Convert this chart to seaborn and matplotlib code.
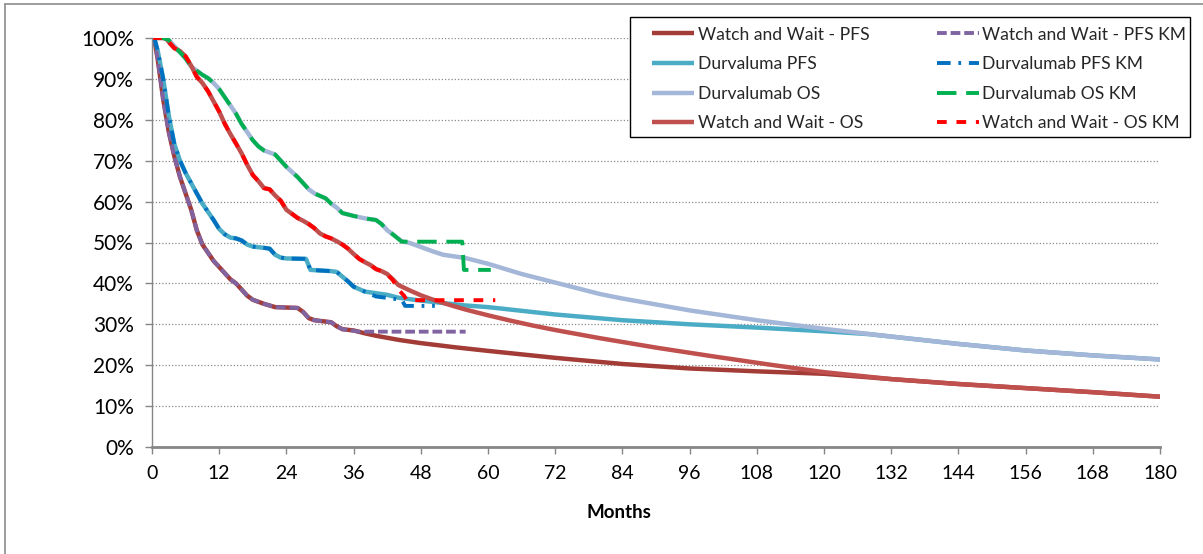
import numpy as np
import pandas as pd
import matplotlib
matplotlib.use("Agg")
import matplotlib.pyplot as plt
import seaborn as sns
from matplotlib.lines import Line2D
from matplotlib.patches import Rectangle
from matplotlib.ticker import PercentFormatter

# ---------------- data (months, survival %) ----------------
ww_pfs_t = [0, 0.5, 1, 2, 3, 4, 5, 6, 7, 8, 9, 10, 11, 12, 13, 14, 15, 16, 17, 18, 20, 22, 26, 27, 28, 29,
            32, 33, 34, 36, 38, 40, 44, 48, 54, 60, 72, 84, 96, 108, 120, 132, 144, 156, 168, 180]
ww_pfs_s = [100, 99, 95, 85, 77, 71, 66, 62, 58, 53, 49.5, 47.5, 45.5, 44, 42.5, 41, 40, 38.5, 37, 36, 35, 34.2,
            34, 33, 31.5, 31, 30.5, 29.5, 28.8, 28.5, 27.8, 27.2, 26.2, 25.4, 24.4, 23.5, 21.8, 20.3, 19.2, 18.5,
            17.9, 16.6, 15.4, 14.4, 13.4, 12.3]

durva_pfs_t = [0, 0.5, 1, 2, 3, 4, 5, 6, 7, 8, 9, 10, 11, 12, 13, 14, 15, 16, 17, 18, 20, 21, 22, 23, 24, 27.5,
               28.3, 32, 33, 33.6, 35, 36, 38, 40, 42, 44, 48, 52, 56, 60, 66, 72, 84, 96, 108, 120, 128, 132,
               144, 156, 168, 180]
durva_pfs_s = [100, 99.5, 97, 90, 81, 74, 70, 67, 64.5, 62, 59.5, 57.5, 55.5, 53.3, 52, 51.2, 51, 50.5, 49.5, 49,
               48.7, 48.5, 47, 46.3, 46.1, 46, 43.3, 43, 42.8, 42.1, 40.5, 39.2, 38, 37.6, 37.2, 36.5, 35.8, 35.2,
               34.6, 34.2, 33.3, 32.4, 31, 30, 29.2, 28.3, 27.6, 27.0, 25.2, 23.6, 22.4, 21.4]

durva_os_t = [0, 2, 3, 4, 5, 6, 7, 8, 9, 10, 11, 12, 13, 14, 15, 16, 17, 18, 19, 20, 22, 24, 26, 27, 28, 29, 31,
              32, 33, 34, 36, 38, 40, 41, 42, 43, 44.6, 46, 48, 50, 52, 56, 60, 66, 72, 80, 84, 96, 108, 120,
              132, 144, 156, 168, 180]
durva_os_s = [100, 100, 99.5, 98, 96.5, 95, 93, 92, 91, 90.2, 89, 87.5, 85.5, 83.5, 81.5, 79, 77, 75, 73.5, 72.5,
              71.5, 68.5, 66, 64.5, 63, 62, 60.8, 59.5, 58.5, 57.2, 56.5, 55.9, 55.5, 54.5, 53, 52, 50.3, 49.9,
              48.9, 47.9, 47.0, 46.2, 44.8, 42.3, 40.2, 37.4, 36.3, 33.4, 31.0, 28.9, 27.0, 25.2, 23.6, 22.4,
              21.4]

ww_os_t = [0, 2, 2.6, 3, 4, 5, 6, 7, 8, 9, 10, 11, 12, 13, 14, 15, 16, 17, 18, 19, 20, 21, 22, 23, 24, 25, 26,
           27, 28, 29, 30, 31, 32, 33, 34, 35, 36, 37, 38, 39, 40, 41, 42, 43, 44, 46, 48, 50, 53, 56, 60, 64,
           68, 72, 80, 90, 100, 110, 120, 132, 144, 156, 168, 180]
ww_os_s = [100, 100, 99.8, 99, 97.5, 96.8, 95.5, 93.2, 90.5, 89, 87, 84.5, 82, 79, 76.5, 74.2, 71.8, 69, 66.5,
           65, 63.3, 63, 61.5, 60.2, 58, 57, 56, 55.3, 54.5, 53.5, 52.2, 51.5, 51, 50.3, 49.5, 48.5, 47.2, 46,
           45.2, 44.5, 43.5, 43, 42.3, 41, 39.6, 38.3, 37.1, 36.1, 34.8, 33.6, 32.2, 30.9, 29.7, 28.6, 26.6,
           24.3, 22.2, 20.2, 18.3, 16.6, 15.4, 14.4, 13.4, 12.3]

# Kaplan-Meier observed curves
ww_pfs_km_t = [0, 0.5, 1, 2, 3, 4, 5, 6, 7, 8, 9, 10, 11, 12, 13, 14, 15, 16, 17, 18, 20, 22, 26, 27, 28, 29,
               32, 33, 34, 37, 56]
ww_pfs_km_s = [100, 99, 95, 85, 77, 71, 66, 62, 58, 53, 49.5, 47.5, 45.5, 44, 42.5, 41, 40, 38.5, 37, 36, 35,
               34.2, 34, 33, 31.5, 31, 30.5, 29.5, 28.8, 28.2, 28.2]

durva_pfs_km_t = [0, 0.5, 1, 2, 3, 4, 5, 6, 7, 8, 9, 10, 11, 12, 13, 14, 15, 16, 17, 18, 20, 21, 22, 23, 24,
                  27.5, 28.3, 32, 33, 33.6, 35, 36, 38, 40, 44, 44.6, 45.2, 50.5]
durva_pfs_km_s = [100, 99.5, 97, 90, 81, 74, 70, 67, 64.5, 62, 59.5, 57.5, 55.5, 53.3, 52, 51.2, 51, 50.5, 49.5,
                  49, 48.7, 48.5, 47, 46.3, 46.1, 46, 43.3, 43, 42.8, 42.1, 40.5, 39.2, 38, 36.8, 36.1, 36,
                  34.5, 34.5]

durva_os_km_t = [0, 2, 3, 4, 5, 6, 7, 8, 9, 10, 11, 12, 13, 14, 15, 16, 17, 18, 19, 20, 22, 24, 26, 27, 28, 29,
                 31, 32, 33, 34, 36, 38, 40, 41, 42, 43, 44.6, 55.4, 55.7, 60.5]
durva_os_km_s = [100, 100, 99.5, 98, 96.5, 95, 93, 92, 91, 90.2, 89, 87.5, 85.5, 83.5, 81.5, 79, 77, 75, 73.5,
                 72.5, 71.5, 68.5, 66, 64.5, 63, 62, 60.8, 59.5, 58.5, 57.2, 56.5, 55.9, 55.5, 54.5, 53, 52,
                 50.2, 50.2, 43.3, 43.3]

ww_os_km_t = [0, 2, 2.6, 3, 4, 5, 6, 7, 8, 9, 10, 11, 12, 13, 14, 15, 16, 17, 18, 19, 20, 21, 22, 23, 24, 25,
              26, 27, 28, 29, 30, 31, 32, 33, 34, 35, 36, 37, 38, 39, 40, 41, 42, 42.5, 43, 44, 45, 45.5, 61.3]
ww_os_km_s = [100, 100, 99.8, 99, 97.5, 96.8, 95.5, 93.2, 90.5, 89, 87, 84.5, 82, 79, 76.5, 74.2, 71.8, 69,
              66.5, 65, 63.3, 63, 61.5, 60.2, 58, 57, 56, 55.3, 54.5, 53.5, 52.2, 51.5, 51, 50.3, 49.5, 48.5,
              47.2, 46, 45.2, 44.5, 43.5, 43, 42.3, 41.5, 40.8, 38.5, 37, 35.9, 35.9]

x_ticks = list(range(0, 181, 12))
y_ticks = [0, 0.1, 0.2, 0.3, 0.4, 0.5, 0.6, 0.7, 0.8, 0.9, 1.0]

# ---------------- style ----------------
sns.set_theme(style="white")
plt.rcParams['font.family'] = ['Lato', 'DejaVu Sans']

W, H = 1203, 554
fig = plt.figure(figsize=(W / 100, H / 100), dpi=100)
ax = fig.add_axes([152 / W, 1 - 447 / H, 1008 / W, 409 / H])

models = [
    ("Watch and Wait - PFS", ww_pfs_t, ww_pfs_s, "#A33B37"),
    ("Durvaluma PFS", durva_pfs_t, durva_pfs_s, "#4BACC6"),
    ("Durvalumab OS", durva_os_t, durva_os_s, "#A4B7D8"),
    ("Watch and Wait - OS", ww_os_t, ww_os_s, "#C0504D"),
]
kms = [
    ("Watch and Wait - PFS KM", ww_pfs_km_t, ww_pfs_km_s, "#8064A2", (0, (2.5, 1.0))),
    ("Durvalumab PFS KM", durva_pfs_km_t, durva_pfs_km_s, "#0070C0", (0, (3.5, 2.0, 0.7, 2.0))),
    ("Durvalumab OS KM", durva_os_km_t, durva_os_km_s, "#00B050", (0, (5.0, 2.5))),
    ("Watch and Wait - OS KM", ww_os_km_t, ww_os_km_s, "#FF0000", (0, (2.5, 2.5))),
]

handles, labels = [], []
for label, t, s, color in models:
    df = pd.DataFrame({"Months": t, "Survival": np.array(s) / 100.0})
    sns.lineplot(data=df, x="Months", y="Survival", ax=ax, color=color, linewidth=3.2,
                 estimator=None, sort=False, legend=False, solid_capstyle="butt")
    handles.append(ax.lines[-1])
    labels.append(label)
for label, t, s, color, ls in kms:
    df = pd.DataFrame({"Months": t, "Survival": np.array(s) / 100.0})
    sns.lineplot(data=df, x="Months", y="Survival", ax=ax, color=color, linewidth=2.8,
                 linestyle=ls, estimator=None, sort=False, legend=False)
    handles.append(ax.lines[-1])
    labels.append(label)

ax.set_xlim(0, 180)
ax.set_ylim(0, 1.0)
ax.set_xticks(x_ticks)
ax.set_yticks(y_ticks)
ax.yaxis.set_major_formatter(PercentFormatter(1.0, decimals=0))
ax.yaxis.grid(True, color="#8a8a8a", linestyle=(0, (1, 1.6)), linewidth=0.9)
ax.xaxis.grid(False)
ax.set_axisbelow(True)

for side in ["top", "right"]:
    ax.spines[side].set_visible(False)
ax.spines["left"].set_color("#868686")
ax.spines["left"].set_linewidth(1.0)
ax.spines["bottom"].set_color("#868686")
ax.spines["bottom"].set_linewidth(2.0)

ax.tick_params(axis="y", left=True, direction="out", length=5, width=1, color="#868686",
               pad=8, labelsize=15, labelcolor="black")
ax.tick_params(axis="x", bottom=True, direction="out", length=5, width=1, color="#868686",
               pad=8, labelsize=14, labelcolor="black")

ax.set_ylabel("")
ax.set_xlabel("Months", fontsize=13.5, fontweight="bold", color="black")
ax.xaxis.set_label_coords((619 - 152) / 1008, -(513 - 447) / 409)
ax.xaxis.label.set_va("center")

# legend box (white, black border) drawn at the reference's position, inside the axes draw order
box = Rectangle((630 / W, 1 - 137 / H), 560 / W, 120 / H, transform=fig.transFigure,
                facecolor="white", edgecolor="black", linewidth=1.0, zorder=5, clip_on=False)
ax.add_patch(box)

leg = ax.legend(handles, labels, ncol=2, loc="upper left",
                bbox_to_anchor=((652 - 152) / 1008, (447 - 26.5) / 409),
                frameon=False, fontsize=12.6, handlelength=2.4, handletextpad=0.2,
                columnspacing=3.87, labelspacing=0.78, borderpad=0, borderaxespad=0)
leg.set_zorder(6)

# chart-area frame (Excel style)
fig.add_artist(Line2D([5 / W, 5 / W], [0, 1 - 4 / H], transform=fig.transFigure, color="#8c8c8c", lw=1.2))
fig.add_artist(Line2D([5 / W, 1], [1 - 4 / H, 1 - 4 / H], transform=fig.transFigure, color="#8c8c8c", lw=1.2))

fig.savefig("out.png", dpi=100, facecolor="white")
